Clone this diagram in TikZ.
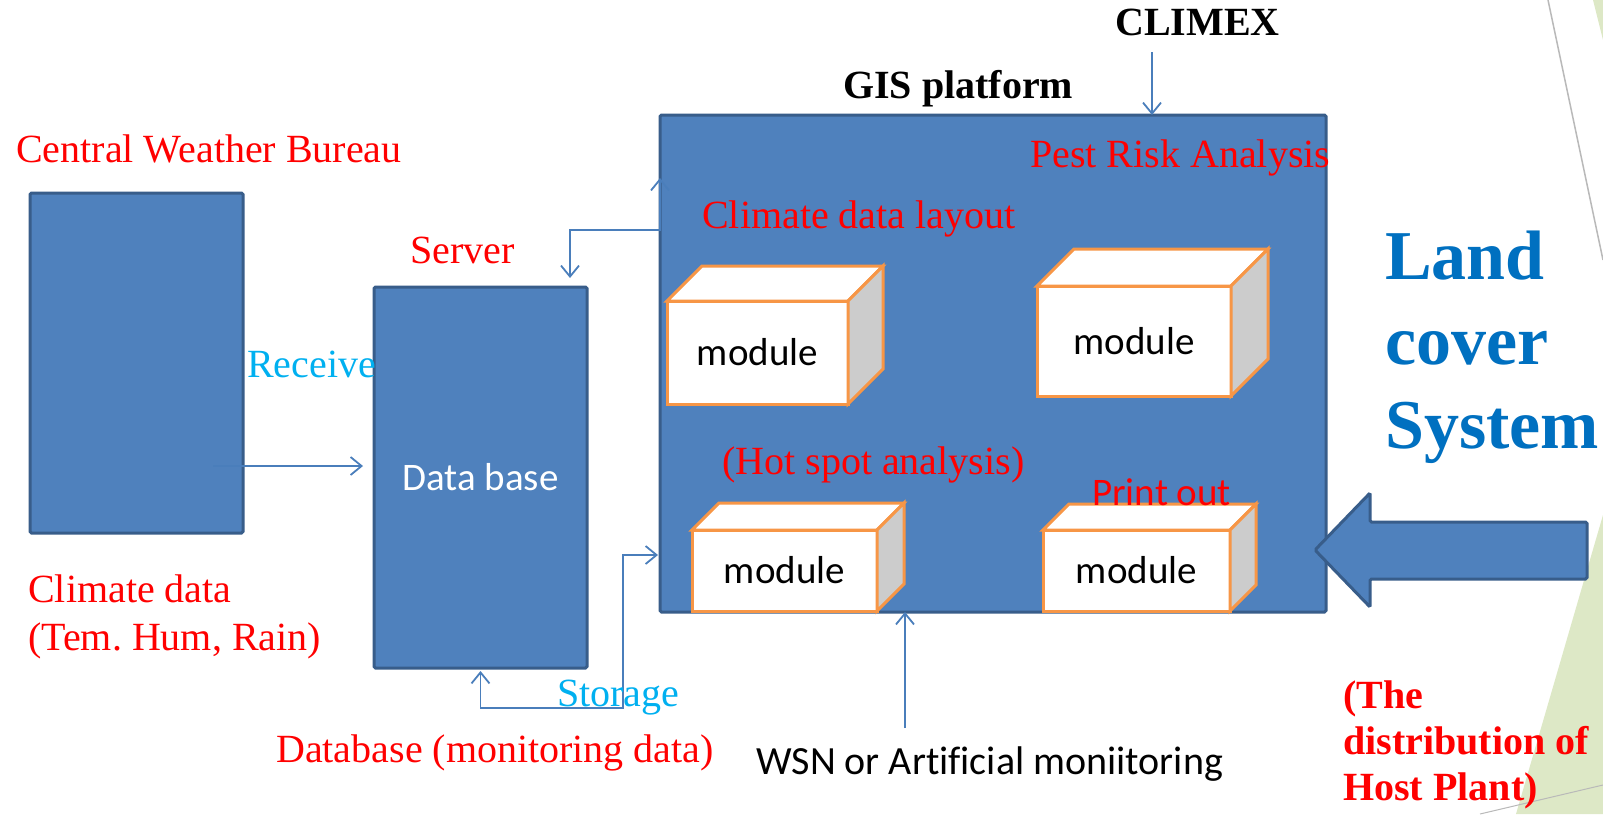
\documentclass[tikz,border=0pt]{standalone}
\usepackage{fontspec}
\setmainfont{Liberation Serif}
\newfontfamily\calibri[Ligatures=NoCommon]{Carlito}
\usetikzlibrary{arrows.meta}
\definecolor{boxblue}{HTML}{4F81BD}
\definecolor{boxedge}{HTML}{385D8A}
\definecolor{linkblue}{HTML}{4A7EBB}
\definecolor{modorange}{HTML}{F79646}
\definecolor{modgray}{HTML}{CCCCCC}
\definecolor{txtred}{HTML}{FF0000}
\definecolor{txtcyan}{HTML}{00B0F0}
\definecolor{landblue}{HTML}{0070C0}
\definecolor{slidegreen}{HTML}{DDE8C6}
\tikzset{
    bluebox/.style={draw=boxedge, fill=boxblue, line width=3pt, inner sep=0pt, outer sep=0pt, rounded corners=1.5pt},
    modfront/.style={draw=modorange, fill=white, line width=3pt, inner sep=0pt, outer sep=0pt, font=\calibri\fontsize{39}{47}\selectfont},
    modface/.style={draw=modorange, line width=3pt, line join=miter},
    conn/.style={draw=linkblue, line width=1.8pt, >={Straight Barb[length=11pt,width=18pt]}},
    lbl/.style={anchor=base west, inner sep=0pt, font=\fontsize{40}{48}\selectfont}
}
\begin{document}
\begin{tikzpicture}[x=1pt, y=-1pt]
        \useasboundingbox (0,0) rectangle (1603,814);
        % Hintergrund
        \fill[white] (0,0) rectangle (1603,814);
        \fill[slidegreen] (1516,814) -- (1603,515) -- (1603,814) -- cycle;
        \fill[slidegreen] (1593,0) -- (1603,0) -- (1603,40) -- cycle;
        \draw[gray!55, line width=1.5pt] (1548,0) -- (1603,260);
        \draw[gray!55, line width=1pt] (1480,814) -- (1603,785);
        % Kaesten
        \node[bluebox, minimum width=213pt, minimum height=340pt] (cwb) at (136.5,363) {};
        \node[bluebox, minimum width=213pt, minimum height=381pt, text=white,
              font=\calibri\fontsize{39}{47}\selectfont] (server) at (480.5,477.5) {Data base};
        \node[bluebox, minimum width=666pt, minimum height=497pt] (gis) at (993,363.5) {};
        % Module
        \foreach \mname/\mx/\my/\mw/\mh/\md in {modA/757.5/352.5/181/103/35,
                                                modB/1134/341/194/110/37,
                                                modC/784.5/570.5/185/81/27,
                                                modD/1136.5/570.5/187/81/26}
        {
            \node[modfront, minimum width=\mw pt, minimum height=\mh pt] (\mname) at (\mx,\my) {module};
            \draw[modface, fill=white] (\mname.north west) -- ++(\md,-\md) -- ++(\mw,0) -- (\mname.north east) -- cycle;
            \draw[modface, fill=modgray] (\mname.north east) -- ++(\md,-\md) -- ++(0,\mh) -- (\mname.south east) -- cycle;
        }
        % Blockpfeil
        \draw[bluebox]
            (1315,550) --
            (1370,493) --
            (1370,522) --
            (1587,522) --
            (1587,579) --
            (1370,579) --
            (1370,607) -- cycle;
        % Beschriftungen
        \node[lbl, text=txtred] (cwbtitle) at (16,162) {Central Weather Bureau};
        \node[lbl, text=txtred] (climA) at (28,602) {Climate data};
        \node[lbl, text=txtred] (climB) at (28,650) {(Tem.\ Hum, Rain)};
        \node[lbl, text=txtred] (srvtitle) at (410,263) {Server};
        \node[lbl, text=txtcyan] (receive) at (247,377) {Receive};
        \node[lbl, text=txtred] (layout) at (702,228) {Climate data layout};
        \node[lbl, text=txtred] (pra) at (1030,167) {Pest Risk Analysis};
        \node[lbl, text=txtred] (hotspot) at (722,474) {(Hot spot analysis)};
        \node[lbl, text=txtred, font=\calibri\fontsize{39}{47}\selectfont] (printout) at (1092,505) {Print out};
        \node[lbl, font=\bfseries\fontsize{40}{48}\selectfont] (gistitle) at (843,98) {GIS platform};
        \node[lbl, font=\bfseries\fontsize{40}{48}\selectfont] (climex) at (1115,35) {CLIMEX};
        \node[lbl, text=txtred] (dbmon) at (276,762) {Database (monitoring data)};
        \node[lbl, font=\calibri\fontsize{40}{48}\selectfont] (wsn) at (756,774) {WSN or Artificial moniitoring};
        \node[lbl, text=landblue, font=\bfseries\fontsize{70}{84}\selectfont] (landA) at (1385,279) {Land};
        \node[lbl, text=landblue, font=\bfseries\fontsize{70}{84}\selectfont] (landB) at (1385,364) {cover};
        \node[lbl, text=landblue, font=\bfseries\fontsize{70}{84}\selectfont] (landC) at (1385,448) {System};
        \node[lbl, text=txtred, font=\bfseries\fontsize{40}{46}\selectfont] (hostA) at (1343,708) {(The};
        \node[lbl, text=txtred, font=\bfseries\fontsize{40}{46}\selectfont] (hostB) at (1343,754) {distribution of};
        \node[lbl, text=txtred, font=\bfseries\fontsize{40}{46}\selectfont] (hostC) at (1343,800) {Host Plant)};
        % Pfeile
        \coordinate (rcvtail) at (213,466);
        \coordinate (storknee) at (623,708);
        \coordinate (wsnfoot) at (905,728);
        \coordinate (climexfoot) at (1152,52);
        \draw[conn,->, shorten >=11pt] (rcvtail) -- (rcvtail -| server.west);
        \draw[conn,<->] ([xshift=-17pt,yshift=9pt]server.north east) -- ++(0,-48) -| ([yshift=-63pt]gis.north west);
        \draw[conn,<->] ([yshift=-3pt]server.south) |- (storknee) |- ([xshift=-2pt,yshift=-191.5pt]gis.west);
        \draw[conn,->] (wsnfoot) -- (wsnfoot |- gis.south);
        \draw[conn,->] (climexfoot) -- (climexfoot |- gis.north);
        \node[lbl, text=txtcyan] (storage) at (557,706) {Storage};
\end{tikzpicture}
\end{document}
